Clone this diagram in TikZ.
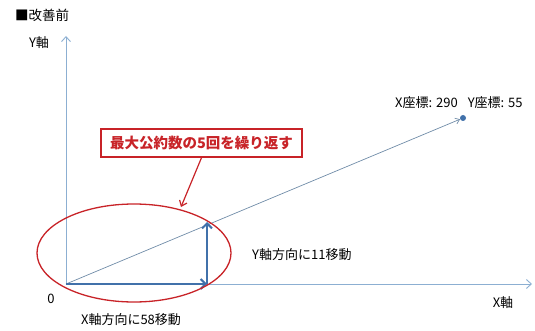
\documentclass[tikz,border=0pt]{standalone}
\usepackage{fontspec}
\setmainfont{Noto Sans CJK JP}
\usetikzlibrary{arrows.meta}
\definecolor{axisc}{RGB}{140,175,210}
\definecolor{movec}{RGB}{65,113,170}
\definecolor{redc}{RGB}{200,35,40}
\tikzset{
  lbl/.style={font=\fontsize{13}{15}\selectfont, inner sep=1pt},
  axisline/.style={draw=axisc, line width=0.9pt, -{Straight Barb[length=5pt,width=9pt]}},
  movearrow/.style={draw=movec, line width=2.6pt, -{Straight Barb[length=5pt,width=10pt,line width=2pt]}},
}
\begin{document}
\begin{tikzpicture}[x=1pt,y=-1pt]
\useasboundingbox (0,0) rectangle (535,331);
\coordinate (o) at (66,284);
\coordinate (xend) at (532,284);
\coordinate (yend) at (66,36);
\coordinate (px) at (207,284);
\coordinate (py) at (207,222);
% axes
\draw[axisline] (o) -- (xend);
\draw[axisline] (o) -- (yend);
% diagonal
\node[circle, fill=movec, inner sep=0pt, minimum size=6pt] (dot) at (463,118) {};
\draw[draw=axisc!80!black, line width=0.7pt, -{Straight Barb[length=4pt,width=6pt]}] (o) -- (dot);
% moves
\draw[movearrow] (o) -- (px);
\draw[movearrow] (px) -- (py);
% ellipse
\draw[redc, line width=1.3pt] (134,253) ellipse [x radius=97, y radius=49];
\coordinate (etop) at (181,207);
% callout
\node[draw=redc, line width=1.4pt, fill=white, minimum width=201pt, minimum height=28pt, inner sep=1pt, text=redc, font=\fontsize{14.5}{16}\selectfont\bfseries] (call) at (201.5,143) {最大公約数の5回を繰り返す};
\draw[redc, line width=1.2pt, -{Straight Barb[length=5pt,width=8pt]}] (call.south) -- (etop);
% labels
\node[lbl, anchor=west, font=\fontsize{13.5}{15}\selectfont] (title) at (14,15) {■改善前};
\node[lbl] (ylab) at (39,43) {Y軸};
\node[lbl] (xlab) at (503,303) {X軸};
\node[lbl] (zero) at (51,299) {0};
\node[lbl, anchor=west] (coord) at (394,103) {X座標: 290\hspace{10pt}Y座標: 55};
\node[lbl, anchor=west] (ymove) at (251,255) {Y軸方向に11移動};
\node[lbl] (xmove) at (131,320) {X軸方向に58移動};
\end{tikzpicture}
\end{document}
